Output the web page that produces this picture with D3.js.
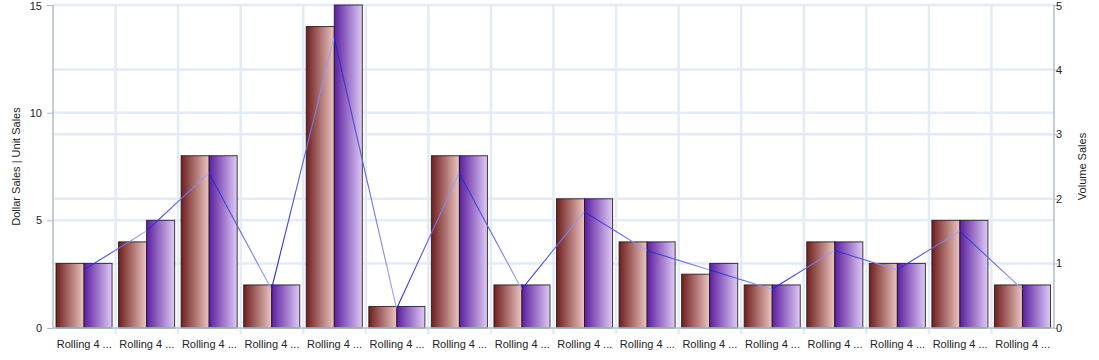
<!DOCTYPE html>
<html><head><meta charset="utf-8">
<script src="https://cdn.jsdelivr.net/npm/d3@7"></script>
<style>body{margin:0;background:#fff;}svg{display:block;font-family:"Liberation Sans",Arial,sans-serif;}</style>
</head><body><svg id="c" width="1099" height="360"></svg>
<script>
const categories = ["Rolling 4 ...","Rolling 4 ...","Rolling 4 ...","Rolling 4 ...","Rolling 4 ...","Rolling 4 ...","Rolling 4 ...","Rolling 4 ...","Rolling 4 ...","Rolling 4 ...","Rolling 4 ...","Rolling 4 ...","Rolling 4 ...","Rolling 4 ...","Rolling 4 ...","Rolling 4 ..."];
const dollarSales = [3,4,8,2,14,1,8,2,6,4,2.5,2,4,3,5,2];
const unitSales   = [3,5,8,2,15,1,8,2,6,4,3,2,4,3,5,2];
const volumeSales = [0.9,1.5,2.4,0.6,4.5,0.3,2.4,0.6,1.8,1.2,0.9,0.6,1.2,0.9,1.5,0.6];
const leftTicks = [0,5,10,15];
const rightTicks = [0,1,2,3,4,5];
const leftTitle = "Dollar Sales | Unit Sales";
const rightTitle = "Volume Sales";

const svg = d3.select("#c");
const L = 53, R = 1054, T = 5, B = 328;
const idx = categories.map((d,i)=>i);
const x = d3.scaleBand().domain(idx).range([L,R]).padding(0);
const bw = x.bandwidth();
const xi = d3.scaleBand().domain(["d","u"]).range([3, bw-3.5]).padding(0);
const yL = d3.scaleLinear().domain([0,15]).range([B,T]);
const yR = d3.scaleLinear().domain([0,5]).range([B,T]);

const defs = svg.append("defs");
function grad(id, c1, c2){
  const g = defs.append("linearGradient").attr("id",id).attr("x1","0").attr("x2","1").attr("y1","0").attr("y2","0");
  g.append("stop").attr("offset","0").attr("stop-color",c1);
  g.append("stop").attr("offset","1").attr("stop-color",c2);
}
grad("gD","#6e1e1e","#ecc6c2");
grad("gU","#5c1e9e","#dfcaf6");
grad("gL","#1f1fc8","#a8a8f4");

const grid = "#e3ebf6";
const gy = svg.append("g");
leftTicks.filter(t=>t>0).forEach(t=>gy.append("line").attr("x1",L).attr("x2",R).attr("y1",yL(t)).attr("y2",yL(t)).attr("stroke",grid).attr("stroke-width",2.5));
rightTicks.filter(t=>t>0&&t<5).forEach(t=>gy.append("line").attr("x1",L).attr("x2",R).attr("y1",yR(t)).attr("y2",yR(t)).attr("stroke",grid).attr("stroke-width",2.5));
idx.forEach(i=>{
  if(i===0) return;
  gy.append("line").attr("x1",x(i)).attr("x2",x(i)).attr("y1",T).attr("y2",B+6).attr("stroke",grid).attr("stroke-width",2.5);
});

const bars = svg.append("g");
idx.forEach(i=>{
  bars.append("rect").attr("x",x(i)+xi("d")).attr("width",xi.bandwidth()).attr("y",yL(dollarSales[i])).attr("height",B-yL(dollarSales[i]))
    .attr("fill","url(#gD)").attr("stroke","#1a1a1a").attr("stroke-opacity",0.85).attr("stroke-width",1);
  bars.append("rect").attr("x",x(i)+xi("u")).attr("width",xi.bandwidth()).attr("y",yL(unitSales[i])).attr("height",B-yL(unitSales[i]))
    .attr("fill","url(#gU)").attr("stroke","#1a1a1a").attr("stroke-opacity",0.85).attr("stroke-width",1);
});

const lg = svg.append("g");
for(let i=0;i<idx.length-1;i++){
  lg.append("line").attr("x1",x(i)+bw/2 - 0.5).attr("y1",yR(volumeSales[i]))
    .attr("x2",x(i+1)+bw/2 - 0.5).attr("y2",yR(volumeSales[i+1]))
    .attr("stroke","url(#gL)").attr("stroke-width",1.1);
}

const axCol = "#b4bcc8";
const axL = svg.append("g").attr("transform",`translate(${L},0)`).call(d3.axisLeft(yL).tickValues(leftTicks).tickSize(6).tickPadding(5).tickFormat(d3.format("d")));
const axR = svg.append("g").attr("transform",`translate(${R},0)`).call(d3.axisRight(yR).tickValues(rightTicks).tickSize(4).tickPadding(-2).tickFormat(d3.format("d")));
const axB = svg.append("g").attr("transform",`translate(0,${B})`).call(d3.axisBottom(x).tickSize(0).tickPadding(10).tickFormat(i=>categories[i]));
[axL,axR,axB].forEach(a=>{
  a.selectAll("path.domain").attr("stroke",axCol).attr("stroke-width",1.5);
  a.selectAll(".tick line").attr("stroke",axCol);
  a.selectAll("text").attr("fill","#222").style("font-size","11px").style("font-family","'Liberation Sans',Arial,sans-serif");
});
axR.selectAll(".tick text").attr("x",2);
axR.selectAll(".tick").filter(d=>d===5).select("text").attr("dy","0.42em");
axL.selectAll(".tick").filter(d=>d===15).select("text").attr("dy","0.42em");
axB.selectAll(".tick text").attr("dy","0.9em");
axL.select("path.domain").attr("d",`M0,${T}V${B}`);
axR.select("path.domain").attr("d",`M0,${T}V${B}`);
axB.select("path.domain").attr("d",`M${L},0H${R}`);

svg.append("text").attr("transform",`translate(20,${(T+B)/2}) rotate(-90)`).attr("text-anchor","middle")
  .style("font-size","11px").attr("fill","#222").text(leftTitle);
svg.append("text").attr("transform",`translate(1086,${(T+B)/2}) rotate(-90)`).attr("text-anchor","middle")
  .style("font-size","11px").attr("fill","#222").text(rightTitle);
</script></body></html>
